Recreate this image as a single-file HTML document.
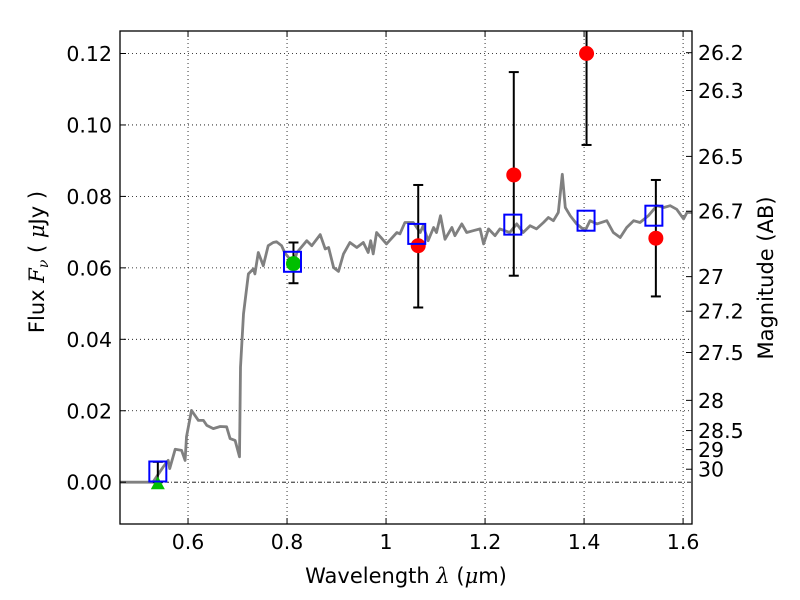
<!DOCTYPE html>
<html><head><meta charset="utf-8"><style>
html,body{margin:0;padding:0;background:#fff;}
svg{display:block;font-family:"DejaVu Sans","Liberation Sans",sans-serif;}
</style></head><body>
<svg id="chart" width="800" height="600" viewBox="0 0 800 600" xmlns="http://www.w3.org/2000/svg">
<rect x="0" y="0" width="800" height="600" fill="#fff"/>
<defs><clipPath id="clip"><rect x="120" y="31" width="572" height="493"/></clipPath></defs>
<g id="grid"></g>
<g id="marks" clip-path="url(#clip)"></g>
<g id="axes"></g>
</svg>
<script>
const specLam = [0.462,0.529,0.550,0.560,0.563,0.574,0.587,0.594,0.597,0.607,0.621,0.631,0.638,0.651,0.665,0.678,0.685,0.695,0.704,0.706,0.712,0.722,0.732,0.735,0.742,0.752,0.762,0.772,0.779,0.789,0.795,0.813,0.820,0.840,0.850,0.867,0.877,0.884,0.894,0.904,0.914,0.927,0.941,0.954,0.964,0.969,0.974,0.981,1.001,1.022,1.028,1.038,1.055,1.069,1.075,1.085,1.096,1.102,1.110,1.119,1.133,1.139,1.153,1.163,1.176,1.190,1.197,1.207,1.220,1.230,1.250,1.264,1.277,1.291,1.304,1.318,1.328,1.338,1.348,1.356,1.362,1.372,1.385,1.402,1.412,1.426,1.446,1.459,1.473,1.486,1.500,1.513,1.530,1.547,1.561,1.574,1.587,1.601,1.608,1.618];
const specFlux = [0.0,0.0,0.0043,0.0061,0.0038,0.0092,0.0089,0.0061,0.0127,0.0201,0.0173,0.0173,0.0159,0.0150,0.0156,0.0155,0.0122,0.0117,0.0071,0.0322,0.0471,0.0583,0.0597,0.0583,0.0643,0.0606,0.0662,0.0671,0.0673,0.0662,0.0643,0.0611,0.0643,0.0676,0.0662,0.0693,0.0653,0.0657,0.0601,0.0590,0.0639,0.0671,0.0657,0.0671,0.0643,0.0676,0.0639,0.0699,0.0667,0.0699,0.0695,0.0727,0.0727,0.0699,0.0718,0.0676,0.0713,0.0699,0.0746,0.0680,0.0713,0.0690,0.0723,0.0699,0.0704,0.0709,0.0667,0.0709,0.0690,0.0709,0.0699,0.0723,0.0699,0.0718,0.0709,0.0727,0.0741,0.0732,0.0755,0.0862,0.0769,0.0746,0.0723,0.0704,0.0732,0.0723,0.0732,0.0699,0.0685,0.0713,0.0732,0.0727,0.0746,0.0774,0.0769,0.0774,0.0764,0.0737,0.0755,0.0755];
const modelLam = [0.539,0.811,1.062,1.256,1.404,1.541];
const modelFlux = [0.0030,0.0617,0.0695,0.0721,0.0732,0.0746];
const obsLam = [1.065,1.258,1.405,1.545];
const obsFlux = [0.0662,0.0860,0.1200,0.0683];
const obsErrLo = [0.0489,0.0578,0.0944,0.0520];
const obsErrHi = [0.0832,0.1148,0.1400,0.0846];
const greenLam = [0.813];
const greenFlux = [0.0612];
const greenErrLo = [0.0557];
const greenErrHi = [0.0671];
const triLam = [0.539];
const triFlux = [0.0];
const triErrLo = [0.0];
const triErrHi = [0.0057];
const xTicks = [0.6,0.8,1.0,1.2,1.4,1.6];
const xTickLabels = ["0.6","0.8","1","1.2","1.4","1.6"];
const yTicks = [0.0,0.02,0.04,0.06,0.08,0.10,0.12];
const yTickLabels = ["0.00","0.02","0.04","0.06","0.08","0.10","0.12"];
const magTicks = [26.2,26.3,26.5,26.7,27,27.2,27.5,28,28.5,29,30];
const magTickLabels = ["26.2","26.3","26.5","26.7","27","27.2","27.5","28","28.5","29","30"];

const L=120,R=692,T=31,B=524;
const xMin=0.4626,xMax=1.618,yMin=-0.0117,yMax=0.1263;
const X=v=>L+(v-xMin)/(xMax-xMin)*(R-L);
const Y=v=>B-(v-yMin)/(yMax-yMin)*(B-T);
const NS="http://www.w3.org/2000/svg";
function mk(tag,attrs,parent){const e=document.createElementNS(NS,tag);for(const k in attrs)e.setAttribute(k,attrs[k]);parent.appendChild(e);return e;}
const grid=document.getElementById('grid'),marks=document.getElementById('marks'),axes=document.getElementById('axes');

xTicks.forEach((t,i)=>{
  const gl=mk('line',{x1:X(t),x2:X(t),y1:T,y2:B,stroke:'#000','stroke-width':0.8,'stroke-dasharray':'1,3'},grid);
  
  
});
yTicks.forEach((t,i)=>{
  const gl=mk('line',{x1:L,x2:R,y1:Y(t),y2:Y(t),stroke:'#000','stroke-width':0.8,'stroke-dasharray':(t===0?'4,2,1,2':'1,3')},grid);
  
  
});

const pts=specLam.map((l,i)=>X(l).toFixed(1)+','+Y(specFlux[i]).toFixed(1)).join(' ');
const sp=mk('polyline',{points:pts,fill:'none',stroke:'#808080','stroke-width':2.8,'stroke-linejoin':'round'},marks);



function errbar(l,lo,hi){
  const g=mk('g',{},marks);
  
  
  const x=X(l);
  mk('line',{x1:x,x2:x,y1:Y(lo),y2:Y(hi),stroke:'#000','stroke-width':2},g);
  mk('line',{x1:x-5,x2:x+5,y1:Y(lo),y2:Y(lo),stroke:'#000','stroke-width':2},g);
  mk('line',{x1:x-5,x2:x+5,y1:Y(hi),y2:Y(hi),stroke:'#000','stroke-width':2},g);
}
triLam.forEach((l,i)=>errbar(l,triErrLo[i],triErrHi[i]));
greenLam.forEach((l,i)=>errbar(l,greenErrLo[i],greenErrHi[i]));
obsLam.forEach((l,i)=>errbar(l,obsErrLo[i],obsErrHi[i]));

triLam.forEach((l,i)=>{
  const x=X(l),y=Y(triFlux[i]);
  const p=mk('polygon',{points:`${x-7},${y+7} ${x+7},${y+7} ${x},${y-6}`,fill:'#00bf00'},marks);
  
  
});
greenLam.forEach((l,i)=>{
  const c=mk('circle',{cx:X(l),cy:Y(greenFlux[i]),r:7.5,fill:'#00bf00'},marks);
  
  
});
obsLam.forEach((l,i)=>{
  const c=mk('circle',{cx:X(l),cy:Y(obsFlux[i]),r:7.5,fill:'#ff0000'},marks);
  
  
});
modelLam.forEach((l,i)=>{
  const r=mk('rect',{x:X(l)-8.5,y:Y(modelFlux[i])-10,width:17,height:20,fill:'none',stroke:'#0000ff','stroke-width':2},marks);
  
  
});

const fr=mk('rect',{x:L,y:T,width:R-L,height:B-T,fill:'none',stroke:'#000','stroke-width':1.3},axes);



xTicks.forEach((t,i)=>{
  const x=X(t);
  mk('line',{x1:x,x2:x,y1:B,y2:B-6,stroke:'#000'},axes);
  mk('line',{x1:x,x2:x,y1:T,y2:T+6,stroke:'#000'},axes);
  const tx=mk('text',{x:x,y:B+25,'text-anchor':'middle','font-size':20.5},axes);
  tx.textContent=xTickLabels[i];
  
  
});
yTicks.forEach((t,i)=>{
  const y=Y(t);
  mk('line',{x1:L,x2:L+6,y1:y,y2:y,stroke:'#000'},axes);
  const tx=mk('text',{x:L-8,y:y+7.5,'text-anchor':'end','font-size':20.5},axes);
  tx.textContent=yTickLabels[i];
  
  
});
magTicks.forEach((m,i)=>{
  const f=Math.pow(10,(23.9-m)/2.5);
  const y=Y(f);
  mk('line',{x1:R,x2:R-6,y1:y,y2:y,stroke:'#000'},axes);
  const tx=mk('text',{x:R+6,y:y+7.5,'text-anchor':'start','font-size':20.5},axes);
  tx.textContent=magTickLabels[i];
  
  
});
</script>
<svg style="position:absolute;left:0;top:0" width="800" height="600" font-family="DejaVu Sans, Liberation Sans, sans-serif">
<text x="406" y="583" text-anchor="middle" font-size="21">Wavelength  <tspan font-family="DejaVu Serif, Liberation Serif, serif" font-style="italic">λ</tspan> (<tspan font-family="DejaVu Serif, Liberation Serif, serif" font-style="italic">μ</tspan>m)</text>
<text transform="translate(44,262) rotate(-90)" text-anchor="middle" font-size="21">Flux  <tspan font-family="DejaVu Serif, Liberation Serif, serif" font-style="italic">F<tspan font-size="14" dy="4">ν</tspan></tspan><tspan dy="-4">  (  </tspan><tspan font-family="DejaVu Serif, Liberation Serif, serif" font-style="italic">μ</tspan>Jy )</text>
<text transform="translate(773,278) rotate(-90)" text-anchor="middle" font-size="21">Magnitude (AB)</text>
</svg>
</body></html>
